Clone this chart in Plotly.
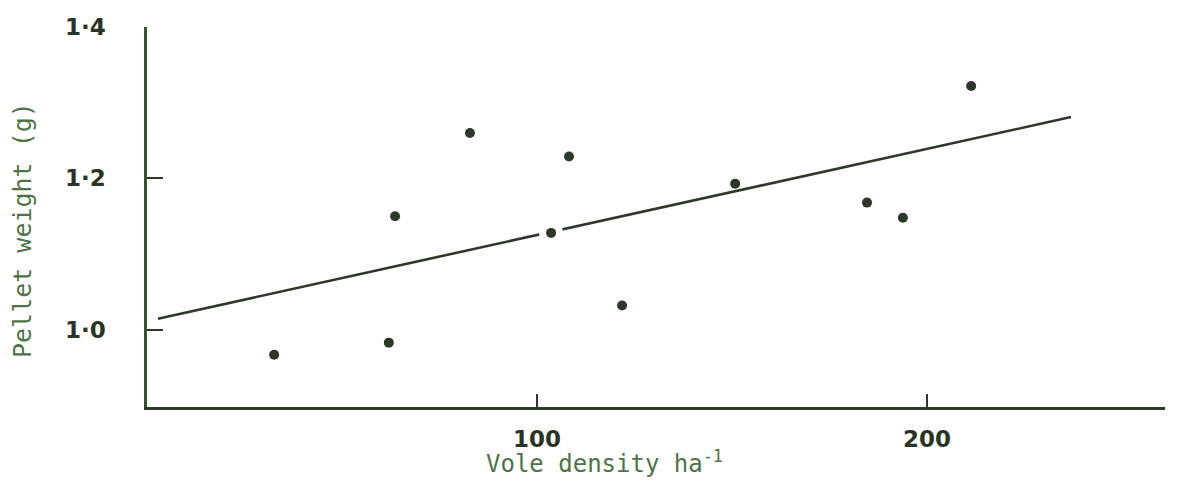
import plotly.graph_objects as go

# Data
vole_density = [32.6, 62.0, 63.6, 82.8, 103.6, 108.2, 121.8, 150.8, 184.6, 193.8, 211.3]
pellet_weight = [0.967, 0.983, 1.150, 1.260, 1.128, 1.229, 1.032, 1.193, 1.168, 1.148, 1.322]

fit_x = [2.8, 236.9]
fit_y = [1.0146, 1.281]

x_ticks = [100, 200]
x_tick_labels = ["100", "200"]
y_ticks = [1.0, 1.2, 1.4]
y_tick_labels = ["1·0", "1·2", "1·4"]

gap_index = 4  # point that interrupts the regression line

ink = "#2c3828"
axis_green = "#35552c"
title_green = "#4c7445"

fig = go.Figure()
fig.add_trace(go.Scatter(x=fit_x, y=fit_y, mode="lines",
                         line=dict(color=ink, width=2.6), hoverinfo="skip"))
fig.add_trace(go.Scatter(x=[vole_density[gap_index]], y=[pellet_weight[gap_index]],
                         mode="markers", marker=dict(color="white", size=24),
                         hoverinfo="skip"))
fig.add_trace(go.Scatter(x=vole_density, y=pellet_weight, mode="markers",
                         marker=dict(color=ink, size=10)))

fig.update_layout(
    width=1177, height=497,
    margin=dict(l=147, r=12, t=27, b=90),
    paper_bgcolor="white", plot_bgcolor="white",
    showlegend=False,
    xaxis=dict(range=[0, 261], tickvals=x_ticks, ticktext=x_tick_labels,
               ticks="inside", ticklen=13, tickwidth=2, tickcolor=ink,
               showline=True, linecolor=ink, linewidth=2.5,
               showgrid=False, zeroline=False, ticklabelstandoff=10,
               tickfont=dict(family="DejaVu Sans", size=23, color="#2a3424",
                             weight="bold")),
    yaxis=dict(range=[0.898, 1.4], tickvals=y_ticks, ticktext=y_tick_labels,
               ticks="inside", ticklen=16, tickwidth=2, tickcolor=ink,
               showline=True, linecolor=axis_green, linewidth=2.5,
               showgrid=False, zeroline=False, ticklabelstandoff=34,
               tickfont=dict(family="DejaVu Sans", size=23, color="#2a3424",
                             weight="bold")),
    annotations=[
        dict(text="Vole density ha<sup>-1</sup>", xref="paper", yref="paper",
             x=(604 - 147) / 1018, y=-(462 - 407) / 380, xanchor="center",
             yanchor="middle", showarrow=False,
             font=dict(family="DejaVu Sans Mono", size=24, color=title_green)),
        dict(text="Pellet weight (g)", xref="paper", yref="paper",
             x=-(147 - 22) / 1018, y=(407 - 230) / 380, xanchor="center",
             yanchor="middle", textangle=-90, showarrow=False,
             font=dict(family="DejaVu Sans Mono", size=25, color=title_green)),
    ],
)

fig.write_html("out.html")
